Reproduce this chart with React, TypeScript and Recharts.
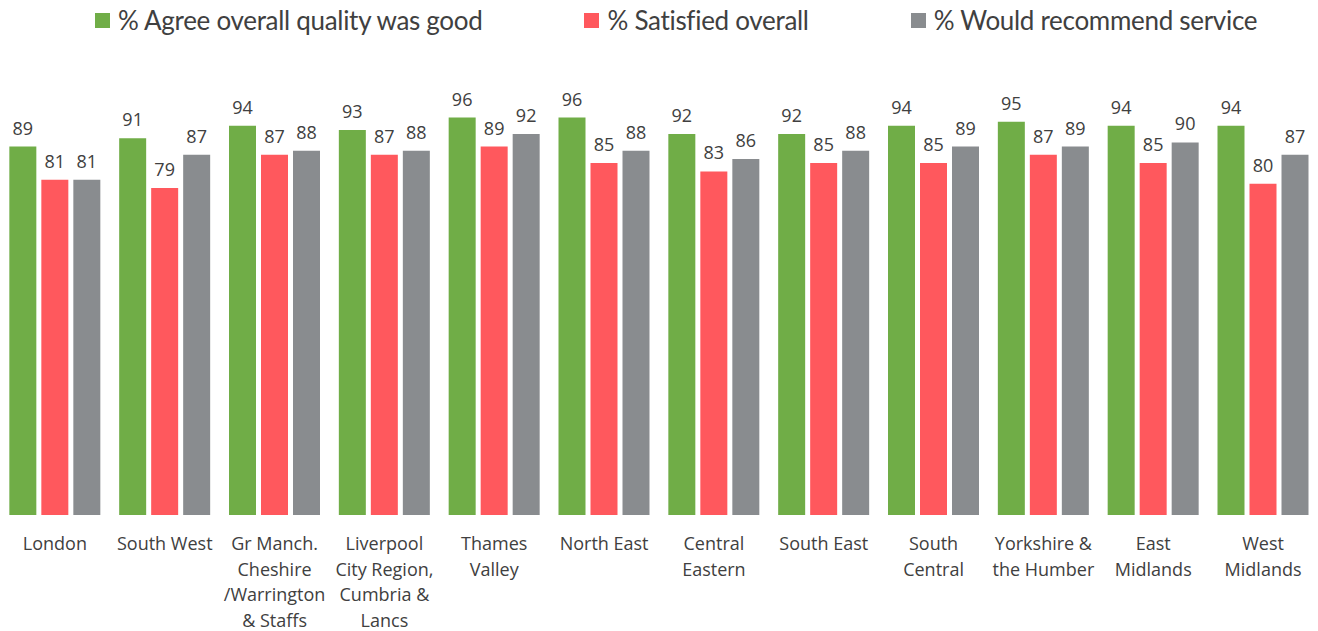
import { BarChart, Bar, XAxis, YAxis, Legend, LabelList } from 'recharts'

const regions = [
  'London',
  'South West',
  'Gr Manch.\nCheshire\n/Warrington\n& Staffs',
  'Liverpool\nCity Region,\nCumbria &\nLancs',
  'Thames\nValley',
  'North East',
  'Central\nEastern',
  'South East',
  'South\nCentral',
  'Yorkshire &\nthe Humber',
  'East\nMidlands',
  'West\nMidlands',
]
const agreeQuality = [89, 91, 94, 93, 96, 96, 92, 92, 94, 95, 94, 94]
const satisfied = [81, 79, 87, 87, 89, 85, 83, 85, 85, 87, 85, 80]
const recommend = [81, 87, 88, 88, 92, 88, 86, 88, 89, 89, 90, 87]

const series = [
  { key: 'agree', name: '% Agree overall quality was good', color: '#70AD47' },
  { key: 'satisfied', name: '% Satisfied overall', color: '#FF585D' },
  { key: 'recommend', name: '% Would recommend service', color: '#898C8F' },
]

const data = regions.map((r, i) => ({
  region: r,
  agree: agreeQuality[i],
  satisfied: satisfied[i],
  recommend: recommend[i],
}))

const FONT = '"Open Sans", "Noto Sans", sans-serif'
const TEXT = '#404040'

const RegionTick = (props: any) => {
  const { x, y, payload } = props
  const lines = String(payload.value).split('\n')
  return (
    <text x={x} y={y + 27} textAnchor="middle" fill={TEXT} fontSize={18} fontFamily={FONT}>
      {lines.map((l, i) => (
        <tspan key={i} x={x} dy={i === 0 ? 0 : 25.5}>{l}</tspan>
      ))}
    </text>
  )
}

const LegendBox = () => (
  <div style={{ height: 101, display: 'flex', alignItems: 'flex-start', paddingLeft: 95, fontFamily: 'Lato, "Open Sans", sans-serif', fontSize: 26, letterSpacing: -0.3, color: TEXT, whiteSpace: 'nowrap' }}>
    {series.map((s, i) => (
      <div key={s.key} style={{ display: 'flex', alignItems: 'center', flexShrink: 0, marginRight: i < series.length - 1 ? 102 : 0, height: 40 }}>
        <span style={{ width: 15, height: 15, background: s.color, display: 'inline-block', marginRight: 8, flexShrink: 0 }} />
        <span>{s.name}</span>
      </div>
    ))}
  </div>
)

export default function App() {
  return (
    <div style={{ position: 'absolute', left: 0, top: 0, background: '#fff' }}>
      <BarChart
        width={1318}
        height={631}
        data={data}
        margin={{ top: 0, right: 0, bottom: 0, left: 0 }}
        barGap={5}
        barCategoryGap="8.5%"
      >
        <Legend verticalAlign="top" align="left" content={<LegendBox />} wrapperStyle={{ left: 0, top: 0, width: 1318 }} />
        <XAxis dataKey="region" interval={0} axisLine={false} tickLine={false} height={116} tick={<RegionTick />} padding={{ left: 0, right: 0 }} />
        <YAxis hide domain={[0, 100]} />
        {series.map((s) => (
          <Bar key={s.key} dataKey={s.key} name={s.name} fill={s.color} isAnimationActive={false}>
            <LabelList dataKey={s.key} position="top" offset={12} fill={TEXT} fontSize={18} fontFamily={FONT} />
          </Bar>
        ))}
      </BarChart>
    </div>
  )
}
